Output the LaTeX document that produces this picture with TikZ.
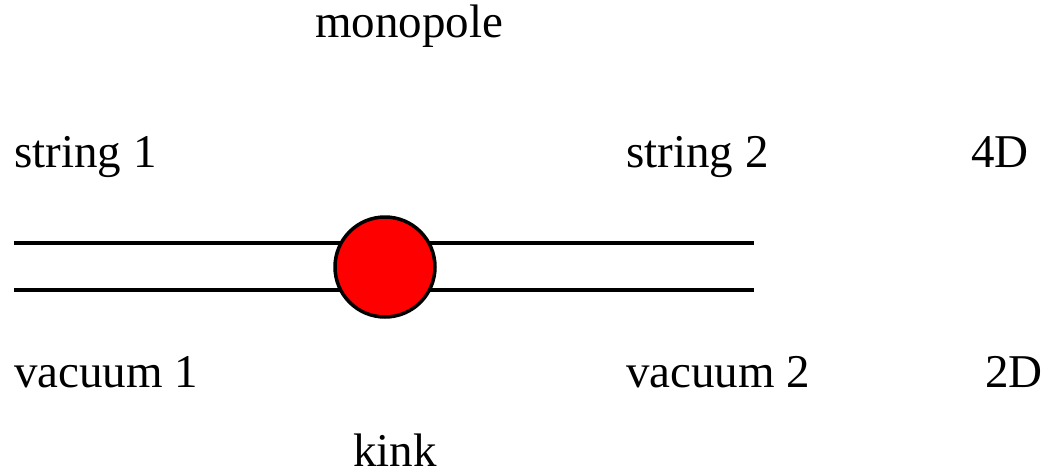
\documentclass[tikz,border=0pt]{standalone}
\usepackage{fontspec}
\setmainfont{Liberation Serif}
\begin{document}
\begin{tikzpicture}[x=1pt,y=-1pt,
  lbl/.style={anchor=base west,inner sep=0pt,font=\fontsize{47}{50}\selectfont},
  strline/.style={line width=4.5pt},
  ball/.style={circle,draw=black,line width=3.5pt,fill=red,minimum size=100pt,inner sep=0pt}]
\useasboundingbox (0,0) rectangle (1055,474);
\node[lbl] (mono) at (315,37) {monopole};
\node[lbl] (s1) at (14,167) {string 1};
\node[lbl] (s2) at (626,167) {string 2};
\node[lbl] (d4) at (971,167) {4D};
\node[lbl] (v1) at (14,387) {vacuum 1};
\node[lbl] (v2) at (626,387) {vacuum 2};
\node[lbl] (d2) at (985,387) {2D};
\node[lbl] (kink) at (353,466) {kink};
\coordinate (a1) at (14,243);
\coordinate (a2) at (754,243);
\coordinate (b1) at (14,290);
\coordinate (b2) at (754,290);
\draw[strline] (a1) -- (a2);
\draw[strline] (b1) -- (b2);
\node[ball] (k) at (385,267) {};
\end{tikzpicture}
\end{document}
